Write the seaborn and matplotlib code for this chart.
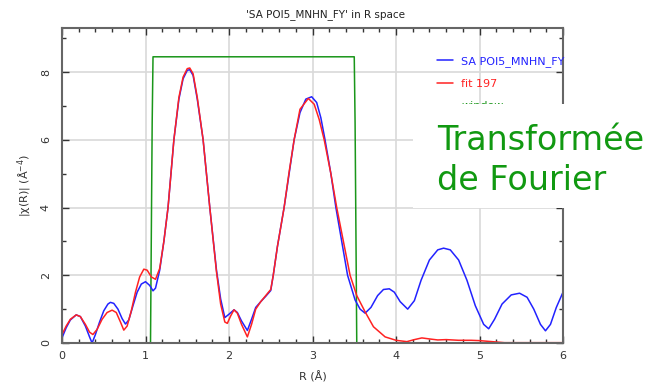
import matplotlib
matplotlib.use("Agg")
import matplotlib.pyplot as plt
import seaborn as sns
import pandas as pd
from matplotlib.patches import Rectangle
from matplotlib.ticker import MultipleLocator

# ---- data ----
r_data = [0.00, 0.05, 0.10, 0.17, 0.22, 0.28, 0.33, 0.36, 0.40, 0.45, 0.50, 0.55, 0.58, 0.62,
          0.67, 0.72, 0.76, 0.80, 0.85, 0.90, 0.95, 1.00, 1.05, 1.09, 1.12, 1.17, 1.22, 1.27,
          1.34, 1.40, 1.45, 1.50, 1.53, 1.57, 1.62, 1.69, 1.77, 1.85, 1.90, 1.95, 2.00, 2.06,
          2.10, 2.15, 2.22, 2.27, 2.32, 2.38, 2.44, 2.50, 2.53, 2.58, 2.66, 2.72, 2.78, 2.85,
          2.92, 2.99, 3.05, 3.10, 3.15, 3.22, 3.28, 3.35, 3.42, 3.51, 3.57, 3.63, 3.70, 3.78,
          3.85, 3.92, 3.98, 4.05, 4.14, 4.22, 4.30, 4.40, 4.50, 4.57, 4.65, 4.75, 4.85, 4.95,
          5.05, 5.11, 5.18, 5.27, 5.38, 5.48, 5.57, 5.65, 5.73, 5.79, 5.85, 5.92, 6.00]
chi_data = [0.15, 0.45, 0.68, 0.83, 0.78, 0.50, 0.18, 0.00, 0.25, 0.62, 0.95, 1.15, 1.20, 1.17,
            1.00, 0.72, 0.56, 0.68, 1.10, 1.50, 1.74, 1.81, 1.70, 1.54, 1.62, 2.15, 3.00, 4.00,
            6.00, 7.20, 7.80, 8.05, 8.07, 7.90, 7.20, 6.00, 4.00, 2.15, 1.30, 0.75, 0.85, 0.98,
            0.90, 0.65, 0.37, 0.70, 1.05, 1.22, 1.38, 1.55, 2.00, 2.85, 4.00, 5.00, 6.00, 6.80,
            7.20, 7.27, 7.10, 6.65, 6.00, 5.00, 4.00, 3.00, 2.00, 1.27, 1.00, 0.88, 1.05, 1.40,
            1.58, 1.60, 1.50, 1.22, 1.00, 1.25, 1.85, 2.45, 2.75, 2.80, 2.75, 2.45, 1.85, 1.10,
            0.55, 0.42, 0.70, 1.15, 1.42, 1.47, 1.35, 1.00, 0.55, 0.36, 0.55, 1.05, 1.50]

r_fit = [0.00, 0.05, 0.10, 0.17, 0.22, 0.28, 0.33, 0.37, 0.42, 0.48, 0.54, 0.60, 0.65, 0.70,
         0.74, 0.78, 0.83, 0.88, 0.93, 0.98, 1.02, 1.07, 1.12, 1.17, 1.22, 1.27, 1.34, 1.40,
         1.45, 1.50, 1.53, 1.57, 1.62, 1.69, 1.77, 1.85, 1.90, 1.95, 1.98, 2.02, 2.06, 2.10,
         2.15, 2.22, 2.27, 2.32, 2.38, 2.44, 2.50, 2.53, 2.58, 2.66, 2.72, 2.78, 2.85, 2.95,
         3.02, 3.08, 3.14, 3.22, 3.29, 3.37, 3.45, 3.53, 3.63, 3.73, 3.87, 4.00, 4.13, 4.22,
         4.31, 4.40, 4.50, 4.60, 4.75, 4.90, 5.00, 5.15, 5.30, 6.00]
chi_fit = [0.25, 0.50, 0.70, 0.83, 0.78, 0.55, 0.32, 0.25, 0.40, 0.70, 0.90, 0.97, 0.90, 0.62,
           0.38, 0.50, 0.95, 1.50, 1.95, 2.18, 2.15, 1.95, 1.88, 2.20, 3.00, 4.00, 6.00, 7.25,
           7.85, 8.10, 8.12, 7.95, 7.25, 6.00, 4.00, 2.10, 1.15, 0.62, 0.58, 0.80, 0.98, 0.88,
           0.55, 0.18, 0.55, 1.00, 1.22, 1.40, 1.58, 2.00, 2.85, 4.00, 5.05, 6.00, 6.90, 7.22,
           7.05, 6.60, 6.00, 5.00, 4.00, 3.00, 2.00, 1.40, 0.92, 0.48, 0.18, 0.08, 0.04, 0.10,
           0.15, 0.12, 0.09, 0.10, 0.08, 0.08, 0.07, 0.04, 0.01, 0.01]

r_win = [0.00, 1.06, 1.07, 1.08, 1.09, 3.50, 3.51, 3.52, 3.53, 6.00]
w_win = [0.00, 0.00, 3.30, 6.50, 8.45, 8.45, 6.50, 3.30, 0.00, 0.00]

labels = ["SA POI5_MNHN_FY", "fit 197", "window"]
title = "'SA POI5_MNHN_FY' in R space"

df_data = pd.DataFrame({"R": r_data, "chi": chi_data})
df_fit = pd.DataFrame({"R": r_fit, "chi": chi_fit})
df_win = pd.DataFrame({"R": r_win, "chi": w_win})

sns.set_theme(style="white")
plt.rcParams["font.family"] = ["DejaVu Sans"]

W, H = 652, 384
fig = plt.figure(figsize=(W / 100, H / 100), dpi=100)
ax = fig.add_axes([62 / W, 1 - 343 / H, (563 - 62) / W, (343 - 28) / H])

blue = "#2222ff"
red = "#ff2222"
green = "#1a961a"

sns.lineplot(data=df_win, x="R", y="chi", ax=ax, color=green, lw=1.1, label=labels[2],
             sort=False, estimator=None)
sns.lineplot(data=df_data, x="R", y="chi", ax=ax, color=blue, lw=1.1, label=labels[0],
             sort=False, estimator=None)
sns.lineplot(data=df_fit, x="R", y="chi", ax=ax, color=red, lw=1.1, label=labels[1],
             sort=False, estimator=None)

ax.set_xlim(0, 6)
ax.set_ylim(0, 9.3)
ax.xaxis.set_major_locator(MultipleLocator(1))
ax.xaxis.set_minor_locator(MultipleLocator(0.2))
ax.yaxis.set_major_locator(MultipleLocator(2))
ax.yaxis.set_minor_locator(MultipleLocator(1))
ax.grid(True, which="major", color="#d9d9d9", lw=1.2)
ax.set_axisbelow(True)

for s in ax.spines.values():
    s.set_color("#666666")
    s.set_linewidth(1.5)
ax.tick_params(which="both", direction="in", top=True, right=True, bottom=True, left=True,
               colors="#333333", labelsize=8)
ax.tick_params(which="major", length=5, width=1)
ax.tick_params(which="minor", length=3, width=1)
ax.tick_params(axis="x", pad=6)
ax.tick_params(axis="y", pad=8)
for lab in ax.get_yticklabels():
    lab.set_rotation(90)
    lab.set_va("center")

ax.set_xlabel("R (Å)", fontsize=8, color="#333333", labelpad=7)
ax.set_ylabel("|χ(R)| (Å$^{-4}$)", fontsize=8, color="#333333", labelpad=5)

fig.text(325 / W, 1 - 15 / H, title, ha="center", va="center", fontsize=7.5, color="#222222")

handles, labs = ax.get_legend_handles_labels()
order = [labs.index(l) for l in labels]
leg = ax.legend([handles[i] for i in order], [labs[i] for i in order],
                loc="upper left", bbox_to_anchor=(427 / W, 1 - 46 / H),
                bbox_transform=fig.transFigure, frameon=False, fontsize=8,
                handlelength=1.4, handletextpad=0.8, labelspacing=1.1)
for t, c in zip(leg.get_texts(), [blue, red, green]):
    t.set_color(c)

# white overlay panel with the French caption
fig.patches.append(Rectangle((413 / W, 1 - 208 / H), (W - 413) / W, 104 / H,
                             transform=fig.transFigure, facecolor="white",
                             edgecolor="none", zorder=10))
fig.text(437 / W, 1 - 150 / H, "Transformée", fontsize=24, color="#119911",
         ha="left", va="baseline", zorder=11)
fig.text(437 / W, 1 - 190 / H, "de Fourier", fontsize=24, color="#119911",
         ha="left", va="baseline", zorder=11)

fig.savefig("out.png", dpi=100)
